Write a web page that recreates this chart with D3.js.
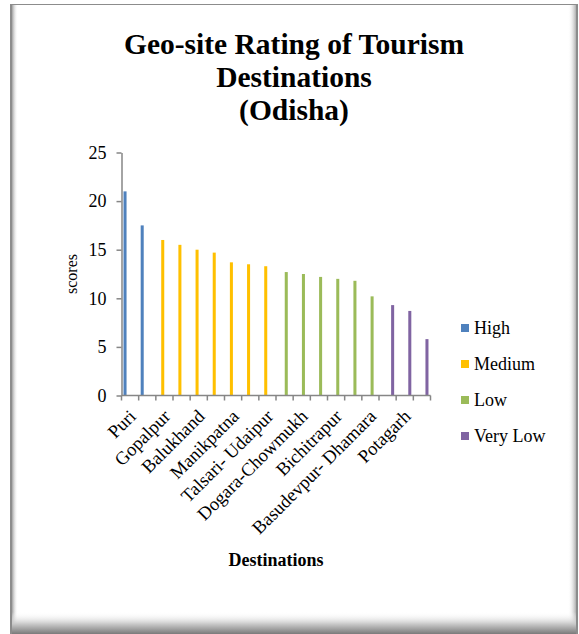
<!DOCTYPE html>
<html>
<head>
<meta charset="utf-8">
<script src="https://cdn.jsdelivr.net/npm/d3@7"></script>
<style>
  body { margin: 0; background: #fff; }
  svg { display: block; }
  text { font-family: "Liberation Serif", "Times New Roman", serif; fill: #000; }
</style>
</head>
<body>
<svg id="chart" width="579" height="634"></svg>
<script>
// Geo-site scores for 18 destinations, in ranked order
const scores = [21, 17.5, 16, 15.5, 15, 14.7, 13.7, 13.5, 13.3, 12.7, 12.5, 12.2, 12.0, 11.8, 10.2, 9.3, 8.7, 5.8];
const tiers = ["High", "High",
  "Medium", "Medium", "Medium", "Medium", "Medium", "Medium", "Medium",
  "Low", "Low", "Low", "Low", "Low", "Low",
  "Very Low", "Very Low", "Very Low"];
const tierNames = ["High", "Medium", "Low", "Very Low"];
const tierColors = ["#4F81BD", "#FFC000", "#9BBB59", "#8064A2"];
// only every second destination carries a label on the axis
const tickLabels = ["Puri", "Gopalpur", "Balukhand", "Manikpatna", "Talsari- Udaipur",
  "Dogara-Chowmukh", "Bichitrapur", "Basudevpur- Dhamara", "Potagarh"];
const yTicks = [0, 5, 10, 15, 20, 25];
const titleLines = ["Geo-site Rating of Tourism", "Destinations", "(Odisha)"];

const svg = d3.select("#chart");

// ---- framed background with soft inner shadow ----
const defs = svg.append("defs");
function grad(id, x1, y1, x2, y2, stops) {
  const g = defs.append("linearGradient").attr("id", id)
    .attr("x1", x1).attr("y1", y1).attr("x2", x2).attr("y2", y2);
  stops.forEach(s => g.append("stop").attr("offset", s[0]).attr("stop-color", s[1]).attr("stop-opacity", s[2]));
}
grad("gLeft", 0, 0, 1, 0, [[0, "#a0a0a0", 1], [1, "#ffffff", 0]]);
grad("gRight", 0, 0, 1, 0, [[0, "#ffffff", 0], [1, "#9a9a9a", 1]]);
grad("gBottom", 0, 0, 0, 1, [[0, "#ffffff", 0], [0.55, "#c8c8c8", 1], [1, "#7a7a7a", 1]]);

const frame = { x0: 10, y0: 4, x1: 578, y1: 634 };
svg.append("rect").attr("x", frame.x0).attr("y", frame.y0)
  .attr("width", frame.x1 - frame.x0).attr("height", frame.y1 - frame.y0).attr("fill", "#fff");
svg.append("rect").attr("x", frame.x0 + 2).attr("y", frame.y0)
  .attr("width", 6).attr("height", frame.y1 - frame.y0).attr("fill", "url(#gLeft)");
svg.append("rect").attr("x", frame.x1 - 10).attr("y", frame.y0)
  .attr("width", 9).attr("height", frame.y1 - frame.y0).attr("fill", "url(#gRight)");
svg.append("rect").attr("x", frame.x0).attr("y", frame.y1 - 22)
  .attr("width", frame.x1 - frame.x0).attr("height", 22).attr("fill", "url(#gBottom)");
svg.append("rect").attr("x", frame.x0).attr("y", frame.y0)
  .attr("width", 2).attr("height", frame.y1 - frame.y0).attr("fill", "#8c8c8c");
svg.append("rect").attr("x", frame.x1 - 2).attr("y", frame.y0)
  .attr("width", 2).attr("height", frame.y1 - frame.y0).attr("fill", "#8c8c8c");
svg.append("line").attr("x1", frame.x0).attr("x2", frame.x1)
  .attr("y1", frame.y0 + 0.5).attr("y2", frame.y0 + 0.5).attr("stroke", "#8c8c8c");

// ---- title ----
svg.append("text").attr("x", 294).attr("text-anchor", "middle")
  .style("font-weight", "bold").style("font-size", "29.5px")
  .selectAll("tspan").data(titleLines).join("tspan")
  .attr("x", 294).attr("y", (d, i) => 54 + i * 33).text(d => d);

// ---- scales ----
const plot = { left: 121.5, right: 430.5, top: 152.5, bottom: 395.5 };
const idx = d3.range(scores.length);
const x = d3.scaleBand().domain(idx).range([plot.left, plot.right]).padding(0);
const xs = d3.scaleBand().domain(tierNames).range([0, x.bandwidth()]).paddingOuter(0.6).paddingInner(0.1);
const y = d3.scaleLinear().domain([0, 25]).range([plot.bottom, plot.top]);
const color = d3.scaleOrdinal().domain(tierNames).range(tierColors);

// ---- bars ----
svg.append("g").selectAll("rect").data(idx).join("rect")
  .attr("x", i => x(i) + xs(tiers[i]))
  .attr("width", xs.bandwidth())
  .attr("y", i => y(scores[i]))
  .attr("height", i => y(0) - y(scores[i]))
  .attr("fill", i => color(tiers[i]));

// ---- y axis ----
const yAxis = svg.append("g").attr("transform", `translate(${plot.left},0)`)
  .call(d3.axisLeft(y).tickValues(yTicks).tickSize(5).tickSizeOuter(0).tickPadding(10));
yAxis.selectAll("path, line").attr("stroke", "#868686").attr("stroke-width", 1.5);
yAxis.selectAll("text").style("font-size", "18px").style("font-family", "'Liberation Serif', serif").attr("fill", "#000");

// ---- x axis: ticks on category boundaries ----
const xAxisG = svg.append("g");
xAxisG.append("line").attr("x1", plot.left).attr("x2", plot.right)
  .attr("y1", plot.bottom).attr("y2", plot.bottom)
  .attr("stroke", "#868686").attr("stroke-width", 1.5);
const boundaries = idx.map(i => x(i)).concat([plot.right]);
xAxisG.selectAll("line.tick").data(boundaries).join("line").attr("class", "tick")
  .attr("x1", d => d).attr("x2", d => d)
  .attr("y1", plot.bottom).attr("y2", plot.bottom + 5)
  .attr("stroke", "#868686").attr("stroke-width", 1.5);

xAxisG.selectAll("text").data(tickLabels).join("text")
  .attr("transform", (d, k) => `translate(${x(k * 2) + x.bandwidth() / 2 + 7},${plot.bottom + 22}) rotate(-45)`)
  .attr("text-anchor", "end")
  .style("font-size", "18.5px")
  .text(d => d);

// ---- axis titles ----
svg.append("text")
  .attr("transform", `translate(77,${(plot.top + plot.bottom) / 2}) rotate(-90)`)
  .attr("text-anchor", "middle").style("font-size", "16px").text("scores");
svg.append("text").attr("x", 276).attr("y", 566).attr("text-anchor", "middle")
  .style("font-weight", "bold").style("font-size", "18px").text("Destinations");

// ---- legend ----
const legend = svg.append("g").selectAll("g").data(tierNames).join("g")
  .attr("transform", (d, i) => `translate(461,${328 + i * 36})`);
legend.append("rect").attr("x", 0).attr("y", -4).attr("width", 8).attr("height", 8)
  .attr("fill", d => color(d));
legend.append("text").attr("x", 13).attr("y", 6).style("font-size", "18px").text(d => d);
</script>
</body>
</html>
